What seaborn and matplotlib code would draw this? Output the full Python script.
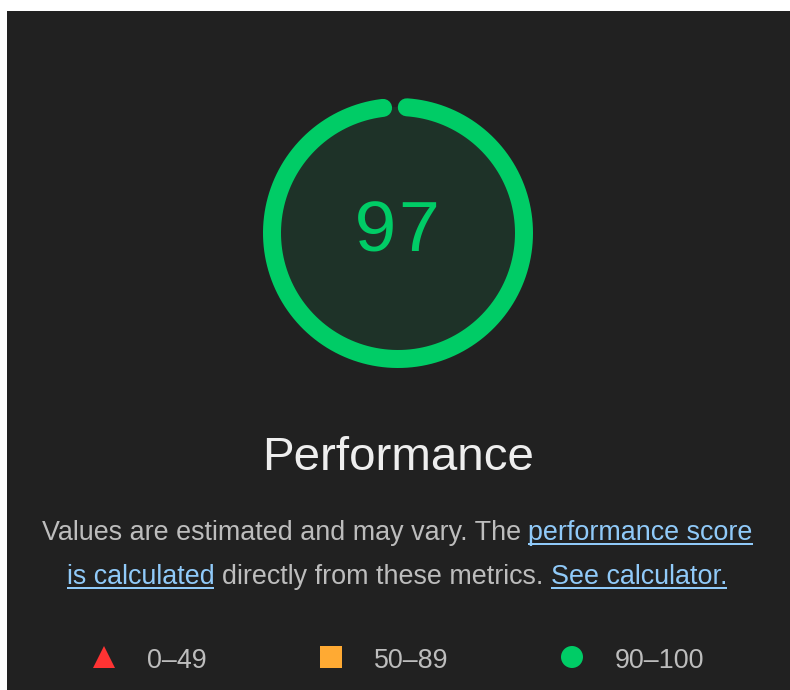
import numpy as np
import pandas as pd
import matplotlib
matplotlib.use("Agg")
import matplotlib.pyplot as plt
from matplotlib.patches import Rectangle, Circle
import seaborn as sns

# ---- data ----
score = 97
category = "Performance"
legend_labels = ["0–49", "50–89", "90–100"]
legend_markers = ["^", "s", "o"]
legend_colors = ["#ff3333", "#ffaa33", "#00cc66"]
desc_line1 = [("Values are estimated and may vary. The", False), ("performance score", True)]
desc_line2 = [("is calculated", True), ("directly from these metrics.", False), ("See calculator.", True)]

# ---- canvas ----
W, H = 790, 690
PT = 72 / 100  # points per pixel at dpi=100
sns.set_theme(style="dark")
plt.rcParams["font.family"] = ["Liberation Sans", "DejaVu Sans"]

fig = plt.figure(figsize=(W / 100, H / 100), dpi=100, facecolor="white")
ax = fig.add_axes([0, 0, 1, 1])
ax.set_facecolor("white")

BG = "#212121"
PASS = "#00cc66"
TEXT = "#bdbdbd"
LINK = "#90caf9"

ax.add_patch(Rectangle((7, 11), W - 7, H - 11, facecolor=BG, edgecolor="none", zorder=0))

# ---- gauge ----
cx, cy, r = 398, 233, 126
ax.add_patch(Circle((cx, cy), r, facecolor="#1e3228", edgecolor="none", zorder=1))
start = 4.0
theta = np.radians(np.linspace(start, start + 360 * score / 100, 500))
arc = pd.DataFrame({"x": cx + r * np.sin(theta), "y": cy - r * np.cos(theta)})
sns.lineplot(data=arc, x="x", y="y", sort=False, estimator=None, color=PASS,
             linewidth=18 * PT, solid_capstyle="round", ax=ax, zorder=2)

ax.text(cx, 252, str(score), ha="center", va="baseline", color=PASS,
        fontsize=75 * PT, family="Liberation Mono", zorder=3)

# ---- title ----
ax.text(cx, 470, category, ha="center", va="baseline", color="#eeeeee",
        fontsize=47.5 * PT, zorder=3)

# ---- description with links ----
renderer = fig.canvas.get_renderer()
FS = 26.95 * PT


def text_width(s):
    t = ax.text(0, 0, s, fontsize=FS)
    w = t.get_window_extent(renderer).width
    t.remove()
    return w


space = text_width("a a") - text_width("aa")


def draw_line(segments, baseline, center):
    widths = [text_width(s) for s, _ in segments]
    total = sum(widths) + space * (len(segments) - 1)
    x = center - total / 2
    for (s, link), w in zip(segments, widths):
        ax.text(x, baseline, s, ha="left", va="baseline", fontsize=FS,
                color=LINK if link else TEXT, zorder=3)
        if link:
            ax.plot([x, x + w], [baseline + 3.5, baseline + 3.5], color=LINK,
                    lw=2 * PT, solid_capstyle="butt", zorder=3)
        x += w + space


draw_line(desc_line1, 540, 397)
draw_line(desc_line2, 584, 397)

# ---- legend ----
leg_x = [104, 331, 572]
leg_y = 657
leg = pd.DataFrame({"label": legend_labels, "x": leg_x, "y": [leg_y] * 3})
sns.scatterplot(data=leg, x="x", y="y", hue="label", style="label",
                palette=dict(zip(legend_labels, legend_colors)),
                markers=dict(zip(legend_labels, legend_markers)),
                s=(22 * PT) ** 2, edgecolor="none", legend=False, ax=ax, zorder=3)
for x, lab in zip(leg_x, legend_labels):
    ax.text(x + 43, 668, lab, ha="left", va="baseline", fontsize=FS, color=TEXT, zorder=3)

ax.set_xlim(0, W)
ax.set_ylim(H, 0)
ax.set_aspect("auto")
ax.axis("off")
fig.savefig("out.png", dpi=100, facecolor="white")
